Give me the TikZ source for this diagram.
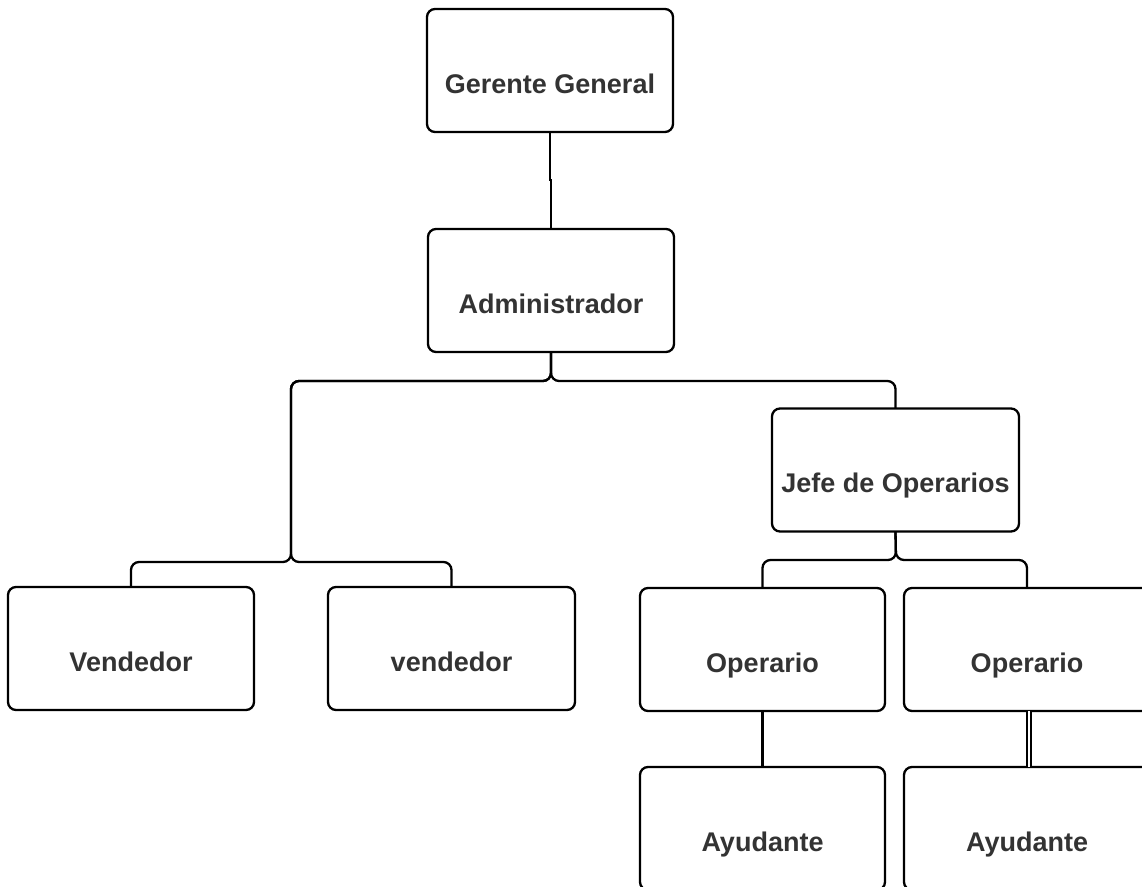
\documentclass[tikz,border=0pt]{standalone}
\usepackage{fontspec}
\setmainfont{Liberation Sans}
\definecolor{txt}{HTML}{333333}
\begin{document}
\begin{tikzpicture}[x=1pt,y=-1pt,
  box/.style={draw=black, line width=2.3pt, rounded corners=8pt, fill=white,
    minimum width=246pt, minimum height=123pt, inner sep=0pt, outer sep=0pt,
    font=\fontsize{27}{32}\selectfont\bfseries, text=txt,
    text height=45pt, text depth=0pt},
  conn/.style={draw=black, line width=2.3pt, rounded corners=8pt},
]
\useasboundingbox (0,0) rectangle (1142,886);
\clip (0,0) rectangle (1142,886);

% boxes
\node[box] (ger)  at (550,70.5)   {Gerente General};
\node[box] (adm)  at (551,290.5)  {Administrador};
\node[box, minimum width=247pt] (jefe) at (895.5,470) {Jefe de Operarios};
\node[box] (ven1) at (131,648.5)  {Vendedor};
\node[box, minimum width=247pt] (ven2) at (451.5,648.5) {vendedor};
\node[box, minimum width=245pt] (op1)  at (762.5,649.5) {Operario};
\node[box] (op2)  at (1027,649.5) {Operario};
\node[box, minimum width=245pt] (ay1)  at (762.5,828.5) {Ayudante};
\node[box] (ay2)  at (1027,828.5) {Ayudante};

% branching points
\coordinate (b1) at (551,381);
\coordinate (vj) at (291,562);
\coordinate (b2) at (896,560);
\coordinate (gm) at (550,180);

% connectors
\draw[line width=2.3pt] (ger.south) -- (gm) -| (adm.north);
\draw[conn] (adm.south) -- (b1) -| (vj) -| (ven1.north);
\draw[conn] (adm.south) -- (b1) -| (vj) -| (ven2.north);
\draw[conn] (adm.south) -- (b1) -| (jefe.north);
\draw[conn] (jefe.south) -- (b2) -| (op1.north);
\draw[conn] (jefe.south) -- (b2) -| (op2.north);
\draw[line width=2.3pt] (op1.south) -- (ay1.north);
\draw[line width=1.8pt, double, double distance=1.8pt]
  ([xshift=2pt]op2.south) -- ([xshift=2pt]ay2.north);
\end{tikzpicture}
\end{document}
